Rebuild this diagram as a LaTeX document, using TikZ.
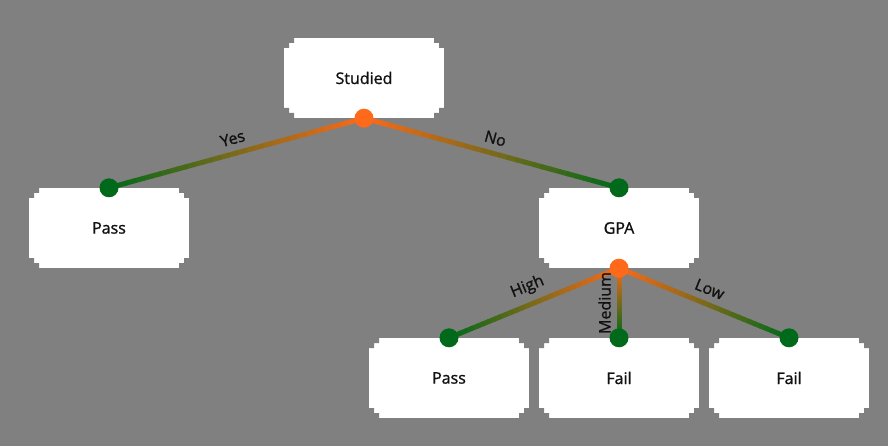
\documentclass[tikz,border=0pt]{standalone}
\usepackage{fontspec}
\setmainfont{Open Sans}
\newfontfamily\boxfont[RawFeature={embolden=1.2}]{Open Sans}
\usetikzlibrary{calc}

\definecolor{bggray}{RGB}{128,128,128}
\definecolor{dotorange}{RGB}{255,106,26}
\definecolor{dotgreen}{RGB}{0,106,26}
\definecolor{inkblack}{RGB}{17,17,17}

\tikzset{
  box/.style={fill=white, minimum width=160pt, minimum height=80pt, inner sep=0pt,
    text=inkblack, font=\boxfont\fontsize{16}{19}\selectfont,
    path picture={
      \fill[bggray]
        (path picture bounding box.north west) rectangle ++(10pt,-5pt)
        (path picture bounding box.north west) rectangle ++(5pt,-10pt)
        (path picture bounding box.north east) rectangle ++(-10pt,-5pt)
        (path picture bounding box.north east) rectangle ++(-5pt,-10pt)
        (path picture bounding box.south west) rectangle ++(10pt,5pt)
        (path picture bounding box.south west) rectangle ++(5pt,10pt)
        (path picture bounding box.south east) rectangle ++(-10pt,5pt)
        (path picture bounding box.south east) rectangle ++(-5pt,10pt);
    }},
  edgelabel/.style={text=inkblack, font=\boxfont\fontsize{16}{19}\selectfont, inner sep=2pt},
}

% colour runs from orange (parent) to green (child)
\newcommand{\gradline}[2]{%
  \foreach \i in {0,...,29}{
    \pgfmathtruncatemacro{\mixpct}{100-100*(\i+0.5)/30}
    \draw[line width=5pt, line cap=round, dotorange!\mixpct!dotgreen]
      ($(#1.south)!\i/30!(#2.north)$) -- ($(#1.south)!{(\i+1)/30}!(#2.north)$);
  }}

\begin{document}
\begin{tikzpicture}[x=1pt, y=1pt]
  \fill[bggray] (0,0) rectangle (888,-446);
  \useasboundingbox (0,0) rectangle (888,-446);

  \begin{scope}[every node/.style={box}, level distance=150pt,
      level 1/.style={sibling distance=510pt},
      level 2/.style={sibling distance=170pt},
      edge from parent/.style={draw=none}]
    \path (364,-78) node (studied) {Studied}
      child {node (pass1) {Pass}}
      child {node (gpa) {GPA}
        child {node (pass2) {Pass}}
        child {node (fail1) {Fail}}
        child {node (fail2) {Fail}}};
  \end{scope}

  \foreach \p/\c in {studied/pass1, studied/gpa, gpa/pass2, gpa/fail1, gpa/fail2}
    \gradline{\p}{\c};

  \foreach \p in {studied, gpa}
    \fill[dotorange] (\p.south) circle (9.5);
  \foreach \c in {pass1, gpa, pass2, fail1, fail2}
    \fill[dotgreen] (\c.north) circle (9.5);

  \path (studied.south) -- (pass1.north) node[edgelabel, midway, sloped, above=7pt] {Yes};
  \path (studied.south) -- (gpa.north) node[edgelabel, midway, sloped, above=7pt] {No};
  \path (gpa.south) -- (pass2.north) node[edgelabel, midway, sloped, above=7pt] {High};
  \path (gpa.south) -- (fail1.north) node[edgelabel, midway, rotate=90, above=6pt] {Medium};
  \path (gpa.south) -- (fail2.north) node[edgelabel, midway, sloped, above=7pt] {Low};
\end{tikzpicture}
\end{document}
